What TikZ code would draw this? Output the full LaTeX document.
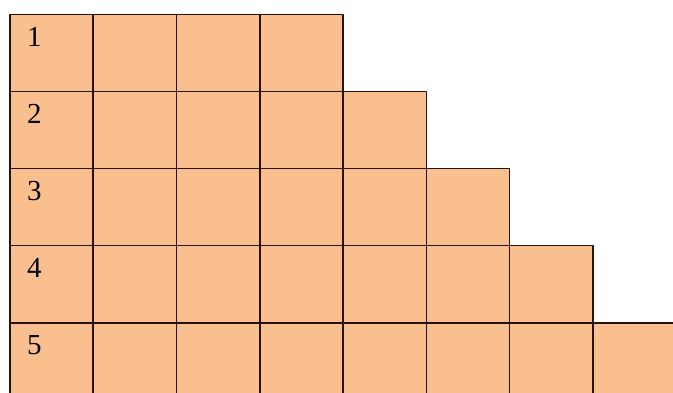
\documentclass[tikz,border=0pt]{standalone}
\usepackage{fontspec}
\setmainfont{Liberation Serif}
\usepackage{xcolor}
\definecolor{peach}{RGB}{250,191,143}
\definecolor{gridline}{RGB}{40,18,14}
\tikzset{
  every picture/.style={line join=round, line cap=round},
  cell/.style={draw=gridline, fill=peach, line width=1.6pt, inner sep=0pt,
    minimum width=83.3pt, minimum height=77.1pt, anchor=north west},
  rowlabel/.style={inner sep=0pt, anchor=base west, font=\fontsize{29}{33}\selectfont},
}

\begin{document}
\begin{tikzpicture}[x=1pt,y=-1pt]
\useasboundingbox (0,0) rectangle (673,392);
\clip (0,0) rectangle (673,392);
\foreach \r/\n in {1/4,2/5,3/6,4/7,5/8}{
  \foreach \c in {1,...,\n}
    \node[cell] (c\r-\c) at ({9+(\c-1)*83.3},{13.5+(\r-1)*77.1}) {};
  \node[rowlabel] (lab\r) at ([xshift=18pt,yshift=-33pt]c\r-1.north west) {\r};
}
\end{tikzpicture}
\end{document}
